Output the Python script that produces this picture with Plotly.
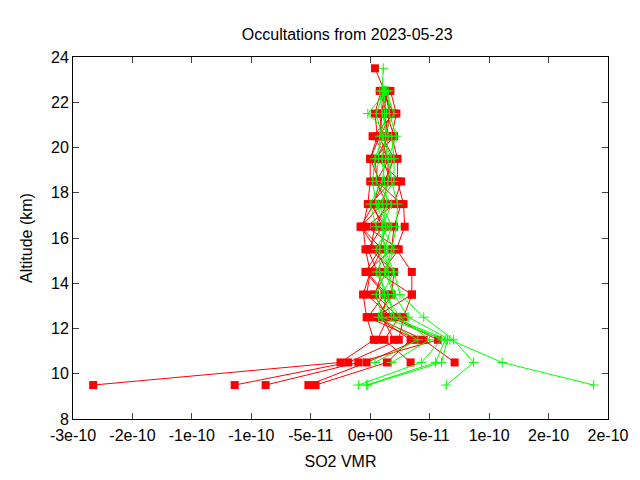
import plotly.graph_objects as go

alt = [9.5,10.5,11.5,12.5,13.5,14.5,15.5,16.5,17.5,18.5,19.5,20.5,21.5,22.5,23.5]
S = 1e-11
red = [
 [-23.3,-2.5,0.3,-0.3,-0.6,0.0,1.0,-0.8,0.3,0.8,0.0,0.8,1.0,1.2,0.4],
 [-11.4,-1.85,2.4,2.8,3.5,3.5,2.2,2.9,2.8,2.3,2.3,1.8,2.2,1.7,None],
 [-8.8,-1.0,5.7,1.8,-0.3,0.0,-0.4,-0.6,-0.2,0.0,0.0,0.6,0.4,0.9,None],
 [-5.2,-0.3,4.0,-0.2,1.2,-0.4,0.8,1.3,0.0,1.8,1.0,1.4,1.6,1.3,None],
 [-4.6,1.4,3.4,0.6,1.8,2.0,0.0,0.4,1.4,0.5,1.6,0.2,2.0,1.0,None],
 [None,3.4,1.2,2.4,0.4,1.0,2.4,-0.3,2.0,2.6,0.5,1.5,1.2,1.4,None],
 [None,7.1,4.5,0.4,3.5,0.6,-0.2,1.0,0.2,1.2,2.0,1.0,0.8,1.6,None],
 [None,None,2.0,1.0,1.4,-0.3,1.8,2.0,2.6,0.6,0.4,2.0,1.4,0.8,None],
 [None,None,0.6,1.5,0.3,1.4,0.5,-0.8,1.0,1.5,1.5,0.8,1.8,1.1,None],
]
green = [
 [18.8,11.1,6.7,3.2,2.0,1.5,1.2,1.0,1.4,1.2,1.0,1.3,1.2,1.0,1.1],
 [6.4,8.7,7.0,4.5,2.5,2.0,1.2,1.8,1.0,1.5,1.8,1.0,0.5,1.2,None],
 [-1.0,4.3,6.0,2.0,1.5,0.5,1.5,0.5,0.0,1.0,1.3,1.5,1.0,0.8,None],
 [-0.3,5.5,6.3,1.0,0.5,1.3,2.0,1.0,1.8,0.5,0.7,0.8,1.4,1.1,None],
 [-0.2,6.0,6.5,1.8,1.0,2.0,0.5,1.5,0.7,2.0,2.0,1.8,-0.2,1.4,None],
 [None,0.4,4.0,0.7,2.0,1.2,1.8,2.2,2.3,1.8,1.5,2.2,1.6,1.5,None],
 [None,1.8,5.0,2.5,1.2,0.8,0.8,1.3,0.5,0.2,0.4,1.1,2.0,1.3,None],
]

fig = go.Figure()
for p in red:
    fig.add_trace(go.Scatter(x=[v*S if v is not None else None for v in p], y=alt, mode="lines+markers",
        line=dict(color="#ff0000", width=1), marker=dict(symbol="square", size=8, color="#ff0000"), showlegend=False))
for p in green:
    fig.add_trace(go.Scatter(x=[v*S if v is not None else None for v in p], y=alt, mode="lines+markers",
        line=dict(color="#00ff00", width=1), marker=dict(symbol="cross-thin", size=7, line=dict(color="#00ff00", width=1)), showlegend=False))

tv = [-2.5e-10,-2e-10,-1.5e-10,-1e-10,-5e-11,0,5e-11,1e-10,1.5e-10,2e-10]
tt = ["-3e-10","-2e-10","-1e-10","-1e-10","-5e-11","0e+00","5e-11","1e-10","2e-10","2e-10"]
fig.update_layout(width=640, height=480, plot_bgcolor="white", paper_bgcolor="white",
    margin=dict(l=65, r=40, t=49, b=69),
    font=dict(family="Liberation Sans", size=16, color="black"),
    title=dict(text="Occultations from 2023-05-23", x=0.53, xanchor="center", y=0.944, yanchor="middle", font=dict(size=16)))
fig.update_xaxes(range=[-2.5e-10,2e-10], tickvals=tv, ticktext=tt, showgrid=False, zeroline=False,
    showline=True, mirror="ticks", linecolor="black", ticks="inside", ticklen=6, ticklabelstandoff=2,
    title=dict(text="SO2 VMR", font=dict(size=16), standoff=12))
fig.update_yaxes(range=[8,24], dtick=2, showgrid=False, zeroline=False,
    showline=True, mirror="ticks", linecolor="black", ticks="inside", ticklen=6,
    title=dict(text="Altitude (km)", font=dict(size=16), standoff=14))
fig.write_html("out.html")
